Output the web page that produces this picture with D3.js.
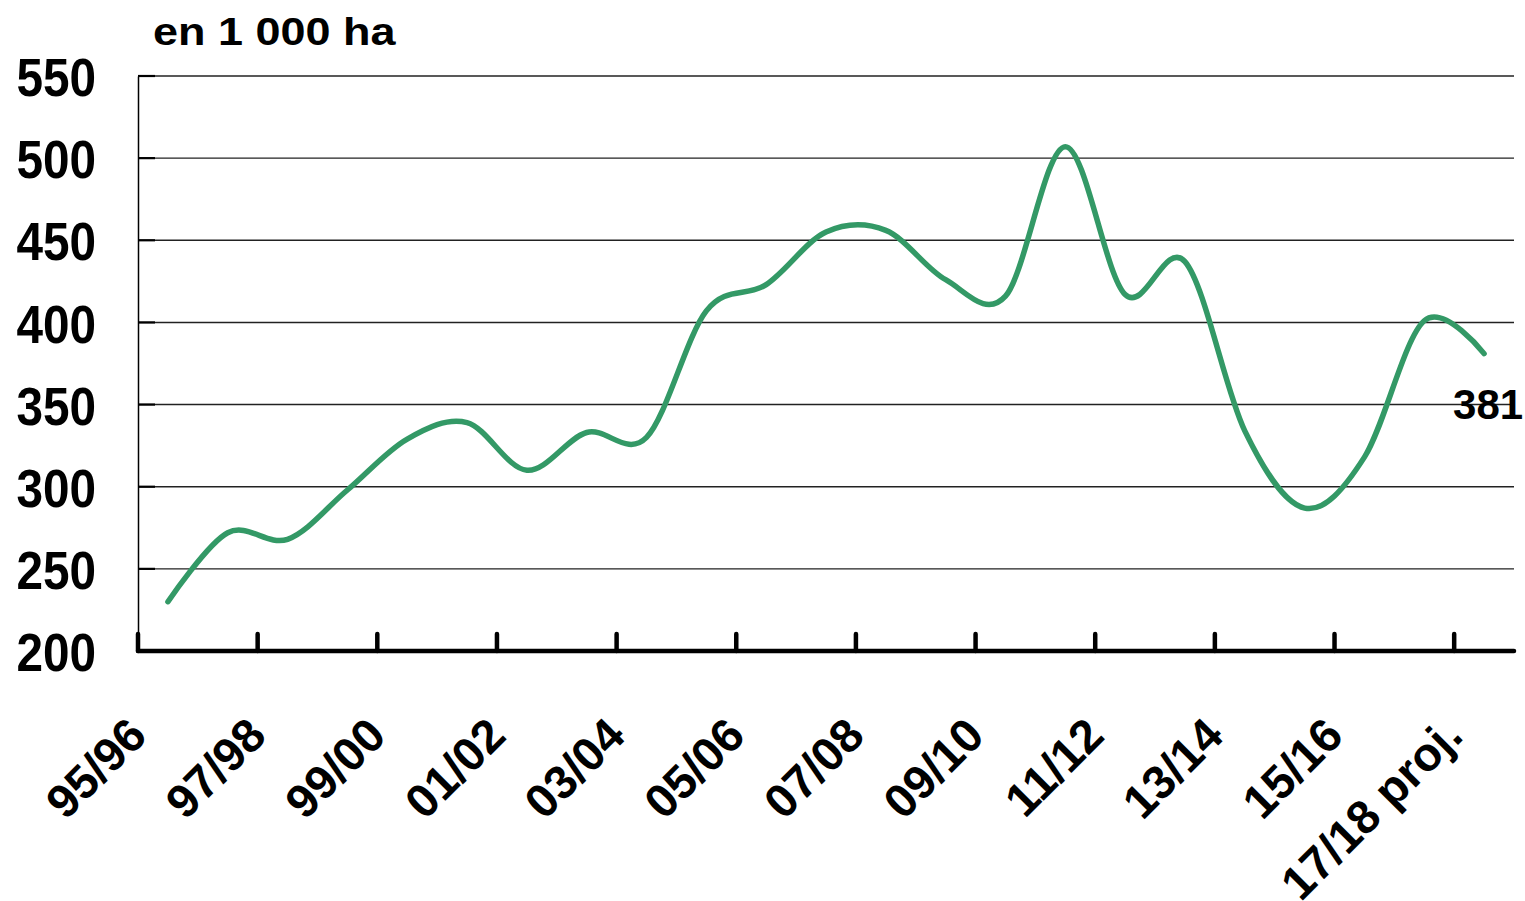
<!DOCTYPE html>
<html>
<head>
<meta charset="utf-8">
<script src="https://cdn.jsdelivr.net/npm/d3@7"></script>
<style>
  body { margin: 0; background: #fff; }
  svg text { font-family: "Liberation Sans", Arial, sans-serif; font-weight: bold; fill: #000; }
</style>
</head>
<body>
<svg width="1525" height="901"></svg>
<script>
// seasons and area (1 000 ha)
const seasons = ["95/96", "96/97", "97/98", "98/99", "99/00", "00/01", "01/02", "02/03",
    "03/04", "04/05", "05/06", "06/07", "07/08", "08/09", "09/10", "10/11", "11/12",
    "12/13", "13/14", "14/15", "15/16", "16/17", "17/18 proj."];
const area = [230, 272, 268, 298, 329, 339, 310, 333, 330, 407, 423, 455, 456,
    426, 416, 507, 417, 437, 334, 287, 318, 401, 381];
const yTicks = [200, 250, 300, 350, 400, 450, 500, 550];
const unitLabel = "en 1 000 ha";

var svg = d3.select("svg");
var chartG = svg.append("g");

var xScale = d3.scaleBand().domain(seasons).range([138, 1514]).padding(0);
var yScale = d3.scaleLinear().domain([200, 550]).range([651, 76]);

var xMid = function(s) { return xScale(s) + xScale.bandwidth() / 2; };

// gridlines
chartG.selectAll(".grid")
    .data(yTicks.filter(d => d > 200))
    .enter().append("line")
    .attr("class", "grid")
    .attr("x1", 138).attr("x2", 1514)
    .attr("y1", d => yScale(d)).attr("y2", d => yScale(d))
    .attr("stroke", "#222").attr("stroke-width", 1.4);

// y axis
var yAxis = chartG.append("g")
    .attr("transform", "translate(138,0)")
    .call(d3.axisLeft(yScale).tickValues(yTicks).tickSize(0));
yAxis.select(".domain").attr("stroke", "#000").attr("stroke-width", 1.5);
// labels a bit narrower and taller than the plain font
yAxis.selectAll("text")
    .attr("x", 0)
    .attr("dy", "0.37em")
    .attr("transform", "translate(-42,0) scale(0.9,1)")
    .style("font-size", "53px")
    .style("font-family", "'Liberation Sans', Arial, sans-serif")
    .style("font-weight", "bold");

// small inside ticks on y axis
chartG.selectAll(".ytick")
    .data(yTicks.filter(d => d > 200))
    .enter().append("line")
    .attr("x1", 138).attr("x2", 155)
    .attr("y1", d => yScale(d)).attr("y2", d => yScale(d))
    .attr("stroke", "#000").attr("stroke-width", 2.2);

// x axis
chartG.append("line")
    .attr("x1", 138).attr("x2", 1514)
    .attr("y1", yScale(200)).attr("y2", yScale(200))
    .attr("stroke", "#000").attr("stroke-width", 4.5)
    .attr("stroke-linecap", "round");

var everyOther = seasons.filter((s, i) => i % 2 === 0);

chartG.selectAll(".xtick")
    .data(everyOther)
    .enter().append("line")
    .attr("x1", d => xScale(d)).attr("x2", d => xScale(d))
    .attr("y1", yScale(200)).attr("y2", yScale(200) - 17)
    .attr("stroke", "#000").attr("stroke-width", 4.5)
    .attr("stroke-linecap", "round");

chartG.selectAll(".xlabel")
    .data(everyOther)
    .enter().append("text")
    .attr("text-anchor", "end")
    .attr("transform", d => `translate(${xMid(d) - 19},738) rotate(-45)`)
    .style("font-size", "47px")
    .text(d => d);

// the line
var line = d3.line()
    .x((d, i) => xMid(seasons[i]))
    .y(d => yScale(d))
    .curve(d3.curveCatmullRom.alpha(0));

chartG.append("path")
    .datum(area)
    .attr("d", line)
    .attr("fill", "none")
    .attr("stroke", "#339966")
    .attr("stroke-width", 5.5)
    .attr("stroke-linejoin", "round")
    .attr("stroke-linecap", "round");

// last value label
var lastIdx = area.length - 1;
chartG.append("text")
    .attr("x", xMid(seasons[lastIdx]) - 31)
    .attr("y", yScale(area[lastIdx]) + 65)
    .style("font-size", "42px")
    .text(area[lastIdx]);

// unit label
chartG.append("text")
    .attr("transform", "translate(153,45) scale(1,0.85)")
    .style("font-size", "45px")
    .text(unitLabel);
</script>
</body>
</html>
